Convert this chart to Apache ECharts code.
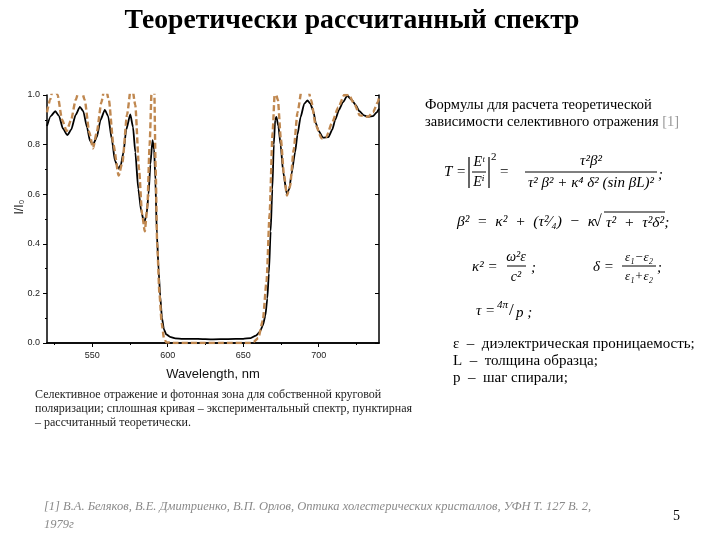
<!DOCTYPE html>
<html><head><meta charset="utf-8">
<script src="https://cdn.jsdelivr.net/npm/echarts@6/dist/echarts.min.js"></script>
<style>html,body{margin:0;padding:0;background:#fff}#c{width:720px;height:540px}</style>
</head><body><div id="c"></div>
<script>
// ---- data ----
const solidX = [520,522.5,525.5,528,530.5,533.5,536,539,541.8,544,546.5,548.5,550.5,553,555.5,558.3,560.5,563,565,567.4,569,570.7,572.5,575.2,577,578.5,580.5,582.5,584.4,586,587.3,588.5,589.9,591,591.8,592.8,594,595,596.2,597.5,599,601.5,605,610,620,630,640,650,655,658.5,661,663,664.7,666,667,668.2,669.3,670.3,671.2,672,673.3,674.8,676.5,678.9,680.5,682,684.4,686,688,690.5,692.6,694.5,696.5,698.2,700,703,706.5,709,711,713.5,716,719,722,724.5,727,730,733,736,738.5,740];
const solidY = [0.875,0.915,0.935,0.915,0.865,0.838,0.86,0.92,0.952,0.935,0.87,0.815,0.80,0.83,0.9,0.94,0.915,0.82,0.735,0.703,0.72,0.77,0.86,0.922,0.87,0.77,0.62,0.53,0.484,0.52,0.6,0.72,0.818,0.78,0.66,0.44,0.29,0.19,0.1,0.055,0.035,0.025,0.019,0.017,0.017,0.015,0.016,0.017,0.02,0.03,0.045,0.07,0.11,0.18,0.28,0.45,0.62,0.8,0.9,0.912,0.875,0.8,0.69,0.602,0.62,0.68,0.77,0.84,0.91,0.965,0.978,0.965,0.935,0.885,0.855,0.828,0.83,0.86,0.9,0.94,0.97,0.997,0.98,0.96,0.935,0.918,0.912,0.915,0.93,0.945];
const dashX = [520,522,524.5,527,530,533,536,539,542,545,548,550.5,553,556,558.5,561,564,567.5,570,573,576,578.5,581,583,584.8,586.5,588,589.5,591,592,593,594.5,596,597.5,599,605,620,640,655,657,660,663,665.5,667.5,669.5,671,673,675,677,679,681,683.5,686,689,692,695,698,702,705,709,713,717,720,724,727.2,732.7,736,739.3,740];
const dashY = [0.93,0.98,1.04,1.0,0.9,0.855,0.9,0.98,1.04,0.98,0.85,0.785,0.85,0.97,1.04,0.98,0.8,0.675,0.73,0.92,1.05,0.96,0.7,0.52,0.45,0.55,0.8,1.05,1.05,0.7,0.4,0.2,0.08,0.02,0.003,0,0,0,0,0.005,0.02,0.09,0.25,0.52,0.85,1.02,0.98,0.82,0.68,0.595,0.63,0.78,0.93,1.03,1.05,0.98,0.88,0.825,0.83,0.89,0.95,1.0,1.0,0.96,0.918,0.912,0.93,0.972,0.99];
const xMajorTicks = [550,600,650,700];
const xMinorTicks = [525,575,625,675,725];
const xRange = [520,740];
const yRange = [0,1];

const solidData = solidX.map((x,i)=>[x,solidY[i]]);
const dashData = dashX.map((x,i)=>[x,dashY[i]]);

const chart = echarts.init(document.getElementById('c'), null, {renderer:'canvas'});
const gridRect = {left:47, top:95, right:341, bottom:197};
const axisFont = {fontFamily:'Liberation Sans', fontSize:9, color:'#222'};
const blackLine = {show:true, lineStyle:{color:'#000', width:1.5}};

const serif = '"Liberation Serif", "DejaVu Serif", serif';
function T(text, x, y, font, opts){
  opts = opts || {};
  const el = {type:'text', x:x, y:y, silent:true, style:Object.assign({
    text:text, font:font, fill:'#000',
    align:opts.align||'left', verticalAlign:'middle',
    textAlign:opts.align||'left', textVerticalAlign:'middle'
  }, opts.style||{})};
  if (opts.rotation) el.rotation = opts.rotation;
  return el;
}
function L(x1,y1,x2,y2,w){
  return {type:'line', silent:true, shape:{x1:x1,y1:y1,x2:x2,y2:y2}, style:{stroke:'#000', lineWidth:w||1}};
}
const fItal = 'italic 15px ' + serif;
const fItalS = 'italic 14px ' + serif;

const graphics = [
  T('Теоретически рассчитанный спектр', 352, 21, 'bold 27.7px ' + serif, {align:'center'}),
  T('I/I₀', 20, 207, '12px "Liberation Sans"', {align:'center', rotation:Math.PI/2, style:{fill:'#111'}}),
  T('Формулы для расчета теоретической', 425, 105, '14.5px ' + serif),
  {type:'text', x:425, y:122, silent:true, style:{
    text:'{a|зависимости селективного отражения }{g|[1]}',
    rich:{a:{font:'14.5px ' + serif, fill:'#000'}, g:{font:'14.5px ' + serif, fill:'#999'}},
    verticalAlign:'middle', textVerticalAlign:'middle'}},
  // formula 1
  T('T =', 444, 172, fItal),
  L(469,157,469,188,1.2), L(489,157,489,188,1.2),
  T('Eᵗ', 479, 162, fItalS, {align:'center'}),
  L(472,172,486,172,1),
  T('Eⁱ', 479, 182, fItalS, {align:'center'}),
  T('2', 491, 157, '11px ' + serif),
  T('=', 500, 172, '15px ' + serif),
  T('τ²β²', 591, 161, fItal, {align:'center'}),
  L(525,172,657,172,1),
  T('τ² β² + κ⁴ δ² (sin βL)²', 591, 183, fItal, {align:'center'}),
  T(';', 658, 175, fItal),
  // formula 2
  T('β²  =  κ²  +  (τ²⁄₄)  −  κ', 457, 222, 'italic 15.5px ' + serif),
  T('√', 593, 222, '16px ' + serif),
  T('τ²  +  τ²δ²;', 606, 223, 'italic 15.5px ' + serif),
  L(604,212,665,212,1),
  // formula 3
  T('κ² =', 472, 267, fItal),
  T('ω²ε', 516, 257, fItalS, {align:'center'}),
  L(507,266,526,266,1),
  T('c²', 516, 277, fItalS, {align:'center'}),
  T(';', 531, 268, fItal),
  T('δ =', 593, 267, fItal),
  T('ε₁−ε₂', 639, 258, 'italic 13px ' + serif, {align:'center'}),
  L(622,266,656,266,1),
  T('ε₁+ε₂', 639, 277, 'italic 13px ' + serif, {align:'center'}),
  T(';', 657, 268, fItal),
  // formula 4
  T('τ =', 476, 311, fItal),
  T('4π', 497, 305, 'italic 11px ' + serif),
  T('/', 509, 311, '17px ' + serif),
  T('p ;', 516, 313, fItal),
  // legend
  T('ε  –  диэлектрическая проницаемость;', 453, 344, '15px ' + serif),
  T('L  –  толщина образца;', 453, 361, '15px ' + serif),
  T('p  –  шаг спирали;', 453, 378, '15px ' + serif),
  // caption
  T('Селективное отражение и фотонная зона для собственной круговой', 35, 395, '12px ' + serif, {style:{fill:'#222'}}),
  T('поляризации; сплошная кривая – экспериментальный спектр, пунктирная', 35, 409, '12px ' + serif, {style:{fill:'#222'}}),
  T('– рассчитанный теоретически.', 35, 423, '12px ' + serif, {style:{fill:'#222'}}),
  // footnote
  T('[1] В.А. Беляков, В.Е. Дмитриенко, В.П. Орлов, Оптика холестерических кристаллов, УФН Т. 127 В. 2,', 44, 507, 'italic 12.5px ' + serif, {style:{fill:'#8a8a8a'}}),
  T('1979г', 44, 525, 'italic 12.5px ' + serif, {style:{fill:'#8a8a8a'}}),
  T('5', 673, 516, '14px ' + serif)
];

chart.setOption({
  animation:false,
  backgroundColor:'#fff',
  grid:[Object.assign({}, gridRect), Object.assign({}, gridRect)],
  xAxis:[
    {type:'value', gridIndex:0, min:xRange[0], max:xRange[1], position:'bottom',
     axisLine:blackLine,
     axisTick:{show:true, customValues:xMajorTicks, length:4, lineStyle:{color:'#000', width:1}},
     axisLabel:Object.assign({customValues:xMajorTicks, margin:8}, axisFont),
     splitLine:{show:false},
     name:'Wavelength, nm', nameLocation:'middle', nameGap:25,
     nameTextStyle:{fontFamily:'Liberation Sans', fontSize:13, color:'#111'}},
    {type:'value', gridIndex:0, min:xRange[0], max:xRange[1], position:'top',
     axisLine:blackLine,
     axisTick:{show:true, inside:true, customValues:xMajorTicks, length:4, lineStyle:{color:'#000', width:1}},
     axisLabel:{show:false}, splitLine:{show:false}},
    {type:'value', gridIndex:1, min:xRange[0], max:xRange[1], position:'bottom',
     axisLine:{show:false},
     axisTick:{show:true, customValues:xMinorTicks, length:2, lineStyle:{color:'#000', width:1}},
     axisLabel:{show:false}, splitLine:{show:false}}
  ],
  yAxis:[
    {type:'value', gridIndex:0, min:yRange[0], max:yRange[1], interval:0.2, position:'left',
     axisLine:blackLine,
     axisTick:{show:true, length:4, lineStyle:{color:'#000', width:1}},
     minorTick:{show:true, splitNumber:2, length:2, lineStyle:{color:'#000', width:1}},
     axisLabel:Object.assign({margin:7, formatter:v=>v.toFixed(1)}, axisFont),
     splitLine:{show:false}},
    {type:'value', gridIndex:0, min:yRange[0], max:yRange[1], interval:0.2, position:'right',
     axisLine:blackLine,
     axisTick:{show:true, inside:true, length:4, lineStyle:{color:'#000', width:1}},
     axisLabel:{show:false}, splitLine:{show:false}},
    {type:'value', gridIndex:1, min:yRange[0], max:yRange[1], show:false}
  ],
  series:[
    {type:'line', xAxisIndex:0, yAxisIndex:0, data:solidData, showSymbol:false, smooth:0.2, smoothMonotone:'x',
     lineStyle:{color:'#000', width:1.8}, clip:true, z:2},
    {type:'line', xAxisIndex:0, yAxisIndex:0, data:dashData, showSymbol:false, smooth:0.2, smoothMonotone:'x',
     lineStyle:{color:'#c08850', width:2.4, type:[6,3]}, clip:true, z:3}
  ],
  graphic:{elements:graphics}
});
</script></body></html>
